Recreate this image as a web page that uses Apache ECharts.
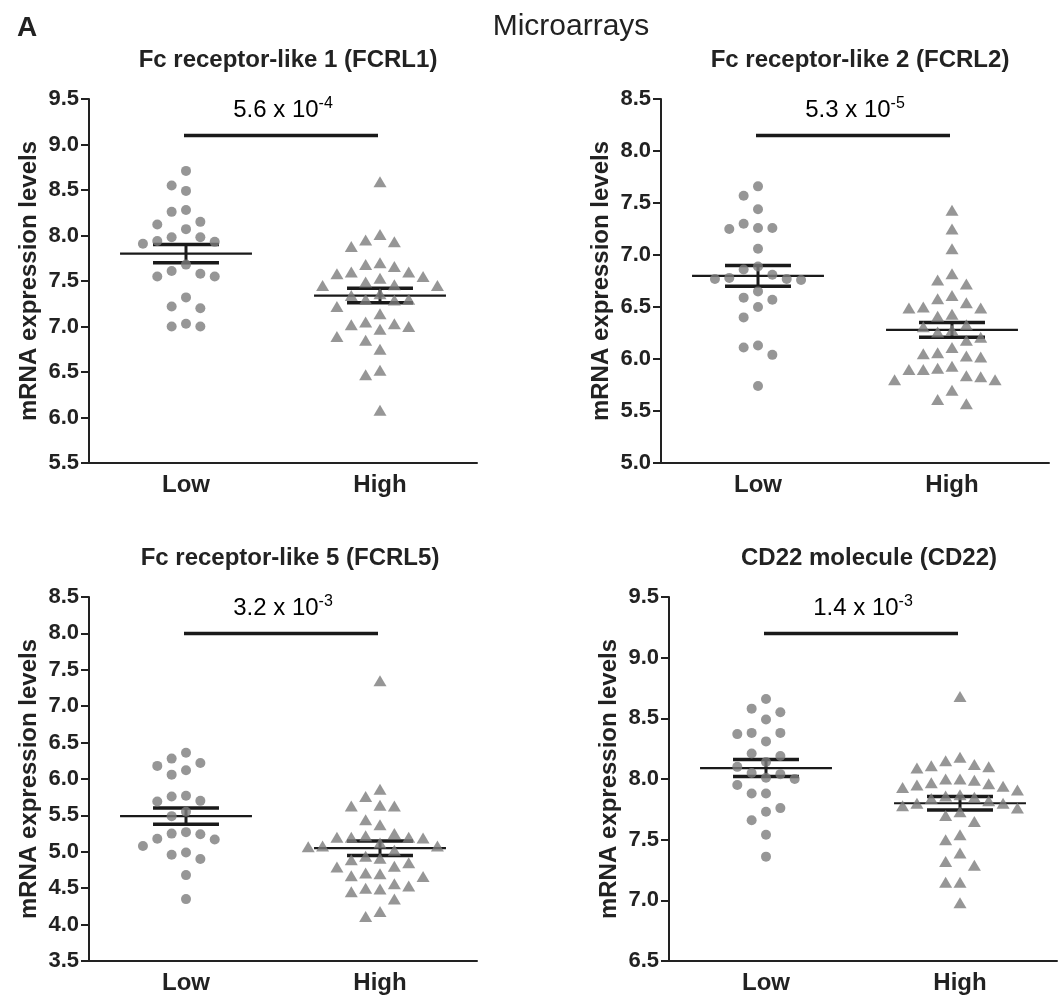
<!DOCTYPE html>
<html>
<head>
<meta charset="utf-8">
<script src="https://cdn.jsdelivr.net/npm/echarts@6/dist/echarts.min.js"></script>
<style>
  html, body { margin: 0; padding: 0; background: #fff; }
  #chart { width: 1060px; height: 999px; }
</style>
</head>
<body>
<div id="chart"></div>
<script>
// groups and panel info
const groups = ['Low', 'High'];
const panelTitles = ['Fc receptor-like 1 (FCRL1)', 'Fc receptor-like 2 (FCRL2)', 'Fc receptor-like 5 (FCRL5)', 'CD22 molecule (CD22)'];
const yMin = [5.5, 5.0, 3.5, 6.5];
const yMax = [9.5, 8.5, 8.5, 9.5];
const bracketY = [9.1, 8.15, 8.0, 9.2];
const pMantissa = ['5.6', '5.3', '3.2', '1.4'];
const pExponent = ['-4', '-5', '-3', '-3'];

// values
const fcrl1Low = [8.71, 8.55, 8.49, 8.28, 8.26, 8.15, 8.12, 8.07, 7.98, 7.98, 7.94, 7.93, 7.91, 7.68, 7.61, 7.58, 7.55, 7.55, 7.32, 7.22, 7.20, 7.03, 7.00, 7.00];
const fcrl1High = [8.59, 8.01, 7.95, 7.93, 7.88, 7.70, 7.68, 7.66, 7.60, 7.60, 7.58, 7.55, 7.53, 7.49, 7.46, 7.45, 7.45, 7.36, 7.34, 7.30, 7.30, 7.29, 7.22, 7.14, 7.05, 7.03, 7.02, 7.00, 6.97, 6.89, 6.85, 6.75, 6.52, 6.47, 6.08];
const fcrl2Low = [7.66, 7.57, 7.44, 7.30, 7.26, 7.26, 7.25, 7.06, 6.89, 6.86, 6.81, 6.78, 6.77, 6.77, 6.76, 6.65, 6.59, 6.57, 6.50, 6.40, 6.13, 6.11, 6.04, 5.74];
const fcrl2High = [7.43, 7.25, 7.06, 6.82, 6.76, 6.72, 6.61, 6.58, 6.54, 6.50, 6.49, 6.49, 6.43, 6.41, 6.33, 6.31, 6.28, 6.26, 6.21, 6.18, 6.11, 6.06, 6.05, 6.03, 6.02, 5.93, 5.91, 5.90, 5.90, 5.84, 5.83, 5.80, 5.80, 5.70, 5.61, 5.57];
const fcrl5Low = [6.36, 6.28, 6.22, 6.18, 6.12, 6.06, 5.77, 5.76, 5.70, 5.69, 5.55, 5.49, 5.27, 5.25, 5.24, 5.18, 5.17, 5.08, 4.99, 4.96, 4.90, 4.68, 4.35];
const fcrl5High = [7.35, 5.86, 5.76, 5.64, 5.63, 5.63, 5.44, 5.37, 5.25, 5.22, 5.20, 5.20, 5.20, 5.19, 5.12, 5.08, 5.08, 5.07, 5.02, 4.94, 4.91, 4.89, 4.85, 4.80, 4.79, 4.71, 4.70, 4.67, 4.66, 4.56, 4.53, 4.50, 4.49, 4.45, 4.35, 4.18, 4.11];
const cd22Low = [8.66, 8.58, 8.55, 8.49, 8.38, 8.38, 8.37, 8.31, 8.21, 8.19, 8.14, 8.10, 8.05, 8.04, 8.01, 8.00, 7.95, 7.88, 7.88, 7.76, 7.73, 7.66, 7.54, 7.36];
const cd22High = [8.68, 8.18, 8.15, 8.12, 8.11, 8.10, 8.09, 8.00, 8.00, 7.99, 7.97, 7.96, 7.95, 7.94, 7.93, 7.91, 7.87, 7.86, 7.85, 7.84, 7.82, 7.80, 7.80, 7.78, 7.76, 7.73, 7.70, 7.65, 7.54, 7.50, 7.39, 7.32, 7.29, 7.15, 7.15, 6.98];

// mean and SEM as drawn
const fcrl1Mean = [7.80, 7.34], fcrl1Sem = [0.10, 0.08];
const fcrl2Mean = [6.80, 6.28], fcrl2Sem = [0.10, 0.07];
const fcrl5Mean = [5.49, 5.05], fcrl5Sem = [0.11, 0.10];
const cd22Mean = [8.09, 7.80], cd22Sem = [0.07, 0.055];

const lowSets = [fcrl1Low, fcrl2Low, fcrl5Low, cd22Low];
const highSets = [fcrl1High, fcrl2High, fcrl5High, cd22High];
const means = [fcrl1Mean, fcrl2Mean, fcrl5Mean, cd22Mean];
const sems = [fcrl1Sem, fcrl2Sem, fcrl5Sem, cd22Sem];

const FONT = 'Liberation Sans, Arial, sans-serif';
const INK = '#222';
const DOT = '#7c7c7c';
const PLOT_W = 388, PLOT_H = 364;
const grids = [
  {left: 89, top: 99}, {left: 661, top: 99},
  {left: 89, top: 597}, {left: 669, top: 597}
];
const SLOT = 0.074;      // horizontal step of the swarm, in category units
const MEAN_HALF = 0.34;
const CAP_HALF = 0.17;

// simple beeswarm: stack points sideways when they would overlap
function swarm(values, gi, lo, hi) {
  const minGap = 15 / (PLOT_H / (hi - lo));
  const placed = [];
  const out = [];
  values.slice().sort((a, b) => b - a).forEach(v => {
    for (let k = 0; ; k++) {
      const slot = k === 0 ? 0 : (k % 2 ? -(k + 1) / 2 : k / 2);
      if (!placed.some(p => p.slot === slot && Math.abs(p.v - v) < minGap)) {
        placed.push({v: v, slot: slot});
        out.push([gi + slot * SLOT, v]);
        break;
      }
    }
  });
  return out;
}

const option = {
  animation: false,
  title: [
    {text: 'A', left: 12, top: 9, textStyle: {fontFamily: FONT, fontSize: 28, fontWeight: 'bold', color: INK}},
    {text: 'Microarrays', left: 566, top: 7, textAlign: 'center', textStyle: {fontFamily: FONT, fontSize: 30, fontWeight: 'normal', color: INK}}
  ],
  grid: [],
  xAxis: [],
  yAxis: [],
  series: []
};

const titleCenters = [283, 855, 285, 864];
const titleTops = [43, 43, 541, 541];

grids.forEach((g, i) => {
  option.title.push({
    text: panelTitles[i], left: titleCenters[i], top: titleTops[i], textAlign: 'center',
    textStyle: {fontFamily: FONT, fontSize: 24, fontWeight: 'bold', color: INK}
  });
  option.grid.push({left: g.left, top: g.top, width: PLOT_W, height: PLOT_H});
  // hidden value axis for the data, visible category axis for ticks/labels
  option.xAxis.push({
    type: 'value', gridIndex: i, min: -0.5, max: 1.5, show: false, position: 'bottom',
    axisLine: {onZero: false}
  });
  option.xAxis.push({
    type: 'category', gridIndex: i, data: groups, boundaryGap: true, position: 'bottom',
    axisLine: {onZero: false, lineStyle: {color: INK, width: 2}},
    axisTick: {alignWithLabel: true, length: 8, lineStyle: {color: INK, width: 2}},
    axisLabel: {fontFamily: FONT, fontSize: 24, fontWeight: 'bold', color: INK, margin: 10},
    splitLine: {show: false}
  });
  option.yAxis.push({
    type: 'value', gridIndex: i, min: yMin[i], max: yMax[i], interval: 0.5, position: 'left',
    name: 'mRNA expression levels', nameLocation: 'middle', nameGap: 48,
    nameTextStyle: {fontFamily: FONT, fontSize: 24, fontWeight: 'bold', color: INK},
    axisLine: {show: true, onZero: false, lineStyle: {color: INK, width: 2}},
    axisTick: {show: true, length: 8, lineStyle: {color: INK, width: 2}},
    axisLabel: {fontFamily: FONT, fontSize: 22, fontWeight: 'bold', color: INK, margin: 10,
      formatter: v => v.toFixed(1)},
    splitLine: {show: false}
  });

  const xi = i * 2;
  option.series.push({
    type: 'scatter', xAxisIndex: xi, yAxisIndex: i,
    symbol: 'circle', symbolSize: 10,
    itemStyle: {color: DOT},
    data: swarm(lowSets[i], 0, yMin[i], yMax[i])
  });
  option.series.push({
    type: 'scatter', xAxisIndex: xi, yAxisIndex: i,
    symbol: 'triangle', symbolSize: [13, 11],
    itemStyle: {color: DOT},
    data: swarm(highSets[i], 1, yMin[i], yMax[i])
  });
  // mean with SEM
  option.series.push({
    type: 'custom', xAxisIndex: xi, yAxisIndex: i, clip: false,
    encode: {x: 0, y: 1},
    data: groups.map((_, gi) => [gi, means[i][gi], sems[i][gi]]),
    renderItem: (params, api) => {
      const x = api.value(0), m = api.value(1), s = api.value(2);
      const c = api.coord([x, m]);
      const top = api.coord([x, m + s]);
      const bot = api.coord([x, m - s]);
      const mh = api.size([MEAN_HALF, 0])[0];
      const ch = api.size([CAP_HALF, 0])[0];
      const st = w => ({stroke: '#1a1a1a', lineWidth: w});
      return {
        type: 'group',
        children: [
          {type: 'line', shape: {x1: c[0] - mh, y1: c[1], x2: c[0] + mh, y2: c[1]}, style: st(2.2)},
          {type: 'line', shape: {x1: c[0] - ch, y1: top[1], x2: c[0] + ch, y2: top[1]}, style: st(3.5)},
          {type: 'line', shape: {x1: c[0] - ch, y1: bot[1], x2: c[0] + ch, y2: bot[1]}, style: st(3.5)},
          {type: 'line', shape: {x1: c[0], y1: top[1], x2: c[0], y2: bot[1]}, style: st(3)}
        ]
      };
    }
  });
  // p-value bracket
  option.series.push({
    type: 'custom', xAxisIndex: xi, yAxisIndex: i, clip: false,
    encode: {x: 0, y: 2},
    data: [[0, 1, bracketY[i]]],
    renderItem: (params, api) => {
      const a = api.coord([api.value(0), api.value(2)]);
      const b = api.coord([api.value(1), api.value(2)]);
      return {
        type: 'group',
        children: [
          {type: 'line', shape: {x1: a[0] - 2, y1: a[1], x2: b[0] - 2, y2: b[1]},
            style: {stroke: '#1a1a1a', lineWidth: 3.5}},
          {type: 'text', x: (a[0] + b[0]) / 2, y: a[1] - 10,
            style: {
              text: '{m|' + pMantissa[i] + ' x 10}{e|' + pExponent[i] + '}',
              align: 'center', verticalAlign: 'bottom',
              rich: {
                m: {fontFamily: FONT, fontSize: 24, color: '#333'},
                e: {fontFamily: FONT, fontSize: 16, color: '#333', padding: [0, 0, 14, 0]}
              }
            }}
        ]
      };
    }
  });
});

const chart = echarts.init(document.getElementById('chart'));
chart.setOption(option);
</script>
</body>
</html>
